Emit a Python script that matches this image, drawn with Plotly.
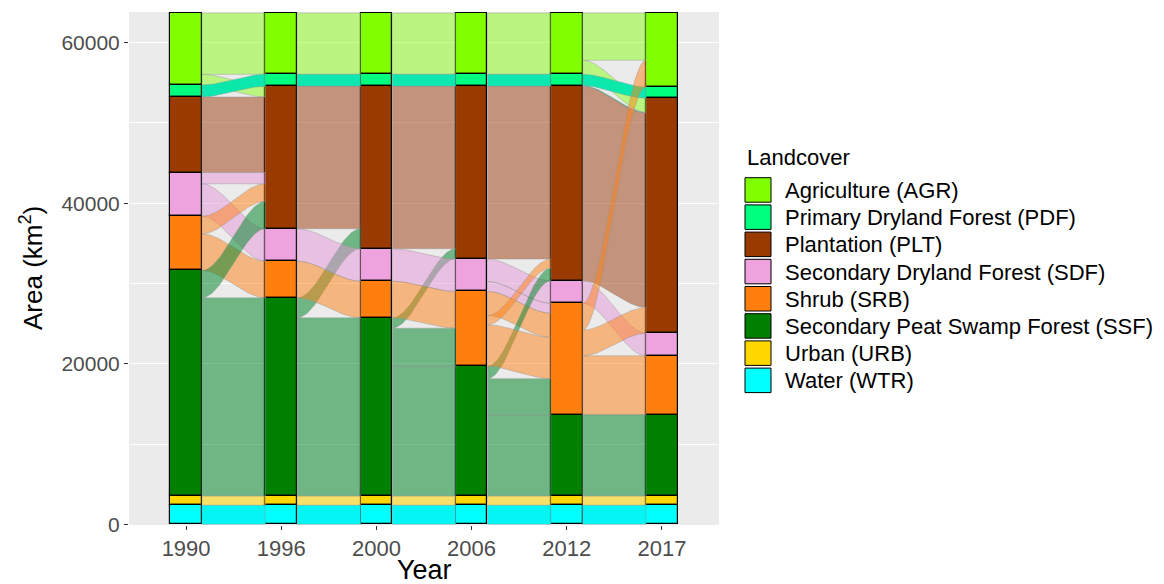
import numpy as np
import plotly.graph_objects as go

# ---------------- data ----------------
years = [1990, 1996, 2000, 2006, 2012, 2017]
codes = ["AGR", "PDF", "PLT", "SDF", "SRB", "SSF", "URB", "WTR"]
class_names = [
    "Agriculture (AGR)",
    "Primary Dryland Forest (PDF)",
    "Plantation (PLT)",
    "Secondary Dryland Forest (SDF)",
    "Shrub (SRB)",
    "Secondary Peat Swamp Forest (SSF)",
    "Urban (URB)",
    "Water (WTR)",
]
y_ticks = [0, 20000, 40000, 60000]

# transitions (from, to, area km2) between consecutive years
flows_1990_1996 = [
    ("AGR", "AGR", 7632), ("AGR", "PLT", 1332), ("PDF", "PDF", 1494),
    ("PLT", "PLT", 9412), ("SDF", "PLT", 1400), ("SDF", "SDF", 4041),
    ("SRB", "PLT", 2191), ("SRB", "SRB", 4569), ("SSF", "PLT", 3411),
    ("SSF", "SSF", 24689), ("URB", "URB", 1157), ("WTR", "WTR", 2366),
]
flows_1996_2000 = [
    ("AGR", "AGR", 7632), ("PDF", "PDF", 1494), ("PLT", "PLT", 17746),
    ("SSF", "PLT", 2490), ("SDF", "SDF", 4041), ("SRB", "SRB", 4569),
    ("SSF", "SSF", 22199), ("URB", "URB", 1157), ("WTR", "WTR", 2366),
]
flows_2000_2006 = [
    ("AGR", "AGR", 7632), ("PDF", "PDF", 1494), ("PLT", "PLT", 20236),
    ("SSF", "PLT", 1282), ("SDF", "SDF", 4041), ("SRB", "SRB", 4569),
    ("SSF", "SRB", 4732), ("SSF", "SSF", 16185), ("URB", "URB", 1157),
    ("WTR", "WTR", 2366),
]
flows_2006_2012 = [
    ("AGR", "AGR", 7632), ("PDF", "PDF", 1494), ("PLT", "PLT", 21518),
    ("SDF", "SDF", 2813), ("SDF", "SRB", 1228), ("SRB", "SRB", 3000),
    ("SRB", "PLT", 1150), ("SSF", "PLT", 1565), ("SRB", "SRB", 5151),
    ("SSF", "SRB", 4498), ("SSF", "SSF", 10122), ("URB", "URB", 1157),
    ("WTR", "WTR", 2366),
]
flows_2012_2017 = [
    ("AGR", "AGR", 5890), ("AGR", "PLT", 1742), ("PDF", "PDF", 1407),
    ("PDF", "PLT", 87), ("PLT", "PLT", 24233), ("SDF", "SDF", 2813),
    ("SRB", "AGR", 3323), ("SRB", "PLT", 3208), ("SRB", "SRB", 7346),
    ("SSF", "SSF", 10122), ("URB", "URB", 1157), ("WTR", "WTR", 2366),
]
intervals = [flows_1990_1996, flows_1996_2000, flows_2000_2006,
             flows_2006_2012, flows_2012_2017]

# ---------------- style ----------------
bar_colors = {
    "AGR": "#7FFF00", "PDF": "#00FF7F", "PLT": "#993A00", "SDF": "#EEA2DE",
    "SRB": "#FF7F0E", "SSF": "#008000", "URB": "#FFD700", "WTR": "#00FFFF",
}
flow_colors = {
    "AGR": "rgba(127,255,0,0.45)", "PDF": "rgba(0,232,172,0.95)",
    "PLT": "rgba(153,51,0,0.48)", "SDF": "rgba(230,150,215,0.5)",
    "SRB": "rgba(255,127,20,0.5)", "SSF": "rgba(0,135,40,0.52)",
    "URB": "rgba(255,215,0,0.55)", "WTR": "rgba(0,245,245,0.98)",
}
FONT = "Liberation Sans, Arial, sans-serif"
BAR_W = 1 / 3

# ---------------- derived stocks ----------------
n_years = len(years)
stocks = []
for k in range(n_years):
    d = {c: 0.0 for c in codes}
    if k < len(intervals):
        for f, t, v in intervals[k]:
            d[f] += v
    else:
        for f, t, v in intervals[-1]:
            d[t] += v
    stocks.append(d)

bottoms, tops = [], []
for k in range(n_years):
    b, tp = {}, {}
    cum = 0.0
    for c in reversed(codes):
        b[c] = cum
        cum += stocks[k][c]
        tp[c] = cum
    bottoms.append(b)
    tops.append(tp)

xpos = [k + 1 for k in range(n_years)]

fig = go.Figure()

# ---------------- flows ----------------
tt = np.linspace(0, 1, 50)
s_curve = 3 * tt ** 2 - 2 * tt ** 3
for k, flows in enumerate(intervals):
    lc = dict(tops[k])
    rc = dict(tops[k + 1])
    xa = xpos[k] + BAR_W / 2
    xb = xpos[k + 1] - BAR_W / 2
    xs = xa + (xb - xa) * tt
    for f, t, v in flows:
        l_top, r_top = lc[f], rc[t]
        l_bot, r_bot = l_top - v, r_top - v
        lc[f] = l_bot
        rc[t] = r_bot
        upper = l_top + (r_top - l_top) * s_curve
        lower = l_bot + (r_bot - l_bot) * s_curve
        px = np.concatenate([xs, xs[::-1], xs[:1]])
        py = np.concatenate([upper, lower[::-1], upper[:1]])
        fig.add_trace(go.Scatter(
            x=px, y=py, mode="lines", fill="toself",
            fillcolor=flow_colors[f],
            line=dict(color="rgba(150,150,150,0.6)", width=0.7),
            hoverinfo="skip", showlegend=False))

# ---------------- strata bars ----------------
for c in codes:
    fig.add_trace(go.Bar(
        x=xpos, y=[stocks[k][c] for k in range(n_years)],
        base=[bottoms[k][c] for k in range(n_years)],
        width=BAR_W,
        marker=dict(color=bar_colors[c], line=dict(color="black", width=1.2)),
        name=c, showlegend=False, hoverinfo="skip"))

# ---------------- layout ----------------
W, H = 1164, 584
L, R, T, B = 129, 719, 12, 525


def pxx(p):
    return (p - L) / (R - L)


def pxy(p):
    return (B - p) / (B - T)


shapes, annotations = [], []
# legend
annotations.append(dict(x=pxx(745), y=pxy(157), xref="paper", yref="paper",
                         text="Landcover", showarrow=False, xanchor="left",
                         yanchor="middle", font=dict(family=FONT, size=22, color="black")))
for i, (c, nm) in enumerate(zip(codes, class_names)):
    top = 177.7 + 27.2 * i
    shapes.append(dict(type="rect", xref="paper", yref="paper",
                       x0=pxx(745), x1=pxx(771), y0=pxy(top + 24.5), y1=pxy(top),
                       fillcolor=bar_colors[c], line=dict(color="black", width=1)))
    annotations.append(dict(x=pxx(783), y=pxy(top + 12.8), xref="paper", yref="paper",
                            text=nm, showarrow=False, xanchor="left", yanchor="middle",
                            font=dict(family=FONT, size=22, color="black")))
# axis titles
annotations.append(dict(x=pxx(424), y=pxy(570), xref="paper", yref="paper",
                        text="Year", showarrow=False, xanchor="center", yanchor="middle",
                        font=dict(family=FONT, size=27, color="black")))
annotations.append(dict(x=pxx(31), y=pxy(268), xref="paper", yref="paper",
                        text="Area (km<sup>2</sup>)", showarrow=False, textangle=-90,
                        xanchor="center", yanchor="middle",
                        font=dict(family=FONT, size=26, color="black")))

fig.update_layout(
    width=W, height=H, autosize=False,
    margin=dict(l=L, r=W - R, t=T, b=H - B, pad=0),
    paper_bgcolor="white", plot_bgcolor="#EBEBEB",
    barmode="overlay", bargap=0,
    shapes=shapes, annotations=annotations,
    font=dict(family=FONT),
    xaxis=dict(range=[0.4, 6.6], tickvals=xpos, ticktext=[str(y) for y in years],
               showgrid=True, gridcolor="white", gridwidth=1.1, zeroline=False,
               ticks="outside", ticklen=4, tickcolor="#333333", tickwidth=1.1,
               tickfont=dict(family=FONT, size=22, color="#4D4D4D"), showline=False),
    yaxis=dict(range=[-80, 63820], tickvals=y_ticks, ticktext=[str(v) for v in y_ticks],
               showgrid=True, gridcolor="white", gridwidth=1.1, zeroline=False,
               ticks="outside", ticklen=4, tickcolor="#333333", tickwidth=1.1,
               tickfont=dict(family=FONT, size=21, color="#4D4D4D"), showline=False,
               minor=dict(tickvals=[10000, 30000, 50000], showgrid=True,
                          gridcolor="white", gridwidth=0.5, ticklen=0)),
)

fig.write_html("out.html", config={"displayModeBar": False},
               post_script="document.body.style.margin='0px';document.body.style.padding='0px';")
